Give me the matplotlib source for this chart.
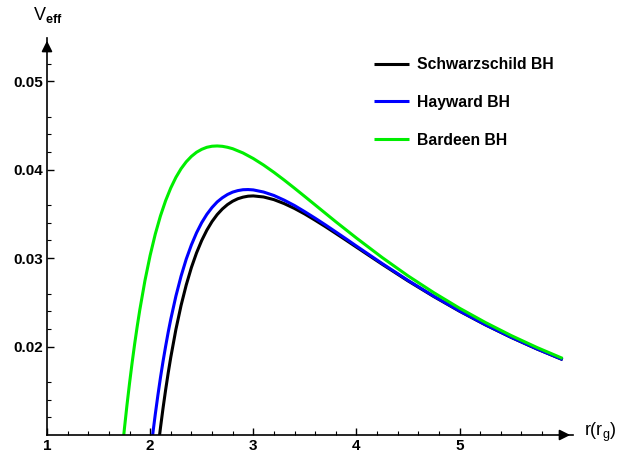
import matplotlib
matplotlib.use("Agg")
import matplotlib.pyplot as plt

plt.rcParams['font.family'] = ['Liberation Sans', 'DejaVu Sans']
plt.rcParams['mathtext.fontset'] = 'custom'
plt.rcParams['mathtext.rm'] = 'Liberation Sans'
plt.rcParams['mathtext.bf'] = 'Liberation Sans:bold'

# values (r in r_g, V_eff)
r_schw = [2.05, 2.09, 2.1, 2.125, 2.15, 2.175, 2.2, 2.25, 2.3, 2.35, 2.4, 2.45, 2.5,
          2.55, 2.6, 2.65, 2.7, 2.75, 2.8, 2.85, 2.9, 2.95, 3.0, 3.1, 3.2, 3.3, 3.4,
          3.5, 3.6, 3.7, 3.8, 3.9, 4.0, 4.25, 4.5, 4.75, 5.0, 5.25, 5.5, 5.75, 6.0]
v_schw = [0.00580, 0.00986, 0.01080, 0.01303, 0.01509, 0.01701, 0.01878, 0.02195,
          0.02466, 0.02697, 0.02894, 0.03060, 0.03200, 0.03317, 0.03414, 0.03493,
          0.03556, 0.03606, 0.03644, 0.03672, 0.03690, 0.03701, 0.03704, 0.03692,
          0.03662, 0.03617, 0.03562, 0.03499, 0.03429, 0.03356, 0.03280, 0.03203,
          0.03125, 0.02931, 0.02743, 0.02566, 0.02400, 0.02246, 0.02104, 0.01973,
          0.01852]

r_hay = [2.0, 2.03, 2.05, 2.075, 2.1, 2.125, 2.15, 2.175, 2.2, 2.25, 2.3, 2.35, 2.4,
         2.45, 2.5, 2.55, 2.6, 2.65, 2.7, 2.75, 2.8, 2.85, 2.9, 2.95, 3.0, 3.1, 3.2,
         3.3, 3.4, 3.5, 3.6, 3.7, 3.8, 3.9, 4.0, 4.25, 4.5, 4.75, 5.0, 5.25, 5.5,
         5.75, 6.0]
v_hay = [0.00758, 0.01053, 0.01235, 0.01448, 0.01648, 0.01832, 0.02002, 0.02162,
         0.02309, 0.02572, 0.02797, 0.02989, 0.03150, 0.03287, 0.03402, 0.03496,
         0.03573, 0.03636, 0.03683, 0.03720, 0.03747, 0.03764, 0.03774, 0.03776,
         0.03772, 0.03748, 0.03709, 0.03656, 0.03595, 0.03525, 0.03452, 0.03376,
         0.03297, 0.03218, 0.03137, 0.02939, 0.02749, 0.02570, 0.02403, 0.02248,
         0.02106, 0.01974, 0.01853]

r_bar = [1.725, 1.75, 1.775, 1.8, 1.825, 1.85, 1.875, 1.9, 1.95, 2.0, 2.05, 2.1,
         2.15, 2.2, 2.25, 2.3, 2.35, 2.4, 2.45, 2.5, 2.55, 2.6, 2.65, 2.7, 2.75,
         2.8, 2.9, 3.0, 3.1, 3.2, 3.3, 3.4, 3.5, 3.6, 3.7, 3.8, 3.9, 4.0, 4.25,
         4.5, 4.75, 5.0, 5.25, 5.5, 5.75, 6.0]
v_bar = [0.00776, 0.01065, 0.01334, 0.01583, 0.01815, 0.02031, 0.02231, 0.02417,
         0.02748, 0.03031, 0.03273, 0.03478, 0.03650, 0.03794, 0.03914, 0.04012,
         0.04090, 0.04151, 0.04198, 0.04231, 0.04254, 0.04266, 0.04269, 0.04265,
         0.04254, 0.04238, 0.04190, 0.04127, 0.04053, 0.03971, 0.03883, 0.03791,
         0.03697, 0.03602, 0.03507, 0.03412, 0.03320, 0.03228, 0.03007, 0.02800,
         0.02610, 0.02434, 0.02273, 0.02125, 0.01990, 0.01866]

labels = ['Schwarzschild BH', 'Hayward BH', 'Bardeen BH']
colors = ['black', '#0000ff', '#00ee00']

W, H = 618, 454
fig = plt.figure(figsize=(W / 100, H / 100), dpi=100)
x0, x1, y0, y1 = 47, 573, 435, 38
ax = fig.add_axes([x0 / W, 1 - y0 / H, (x1 - x0) / W, (y0 - y1) / H])

lw = 2.2
for r, v, c, lab in zip([r_schw, r_hay, r_bar], [v_schw, v_hay, v_bar], colors, labels):
    ax.plot(r, v, color=c, lw=lw, label=lab, solid_capstyle='butt',
            solid_joinstyle='round')

ax.set_xlim(1, 6.1)
ax.set_ylim(0.01, 0.0549)

for s in ['top', 'right']:
    ax.spines[s].set_visible(False)
for s in ['left', 'bottom']:
    ax.spines[s].set_linewidth(1.2)

ax.set_xticks([1, 2, 3, 4, 5])
ax.set_xticklabels(['1', '2', '3', '4', '5'])
ax.set_yticks([0.02, 0.03, 0.04, 0.05])
ax.set_yticklabels(['0.02', '0.03', '0.04', '0.05'])
ax.set_xticks([1 + 0.2 * i for i in range(1, 25) if i % 5], minor=True)
ax.set_yticks([0.012 + 0.002 * i for i in range(21) if (i + 1) % 5 != 4], minor=True)
ax.tick_params(which='major', direction='in', length=5, width=1.0, labelsize=11, pad=3)
ax.tick_params(which='minor', direction='in', length=3, width=0.8)
for t in ax.get_xticklabels() + ax.get_yticklabels():
    t.set_fontweight('bold')

# axis arrows
ax.annotate('', xy=(1.0, 0), xycoords='axes fraction', xytext=(0.97, 0),
            arrowprops=dict(arrowstyle='-|>', color='black', lw=1.2, mutation_scale=16),
            annotation_clip=False)
ax.annotate('', xy=(0, 1.0), xycoords='axes fraction', xytext=(0, 0.96),
            arrowprops=dict(arrowstyle='-|>', color='black', lw=1.2, mutation_scale=16),
            annotation_clip=False)

fig.text(33 / W, 1 - 15 / H, r'$\mathregular{V_{\bf eff}}$', fontsize=13, va='center', ha='left')
fig.text(584 / W, 1 - 432 / H, r'$\mathregular{r(r_{g})}$', fontsize=13, va='center', ha='left')

ax.legend(loc='upper left', bbox_to_anchor=(374 / W, 1 - 57 / H),
          bbox_transform=fig.transFigure, frameon=False, borderpad=0, borderaxespad=0,
          handlelength=2.2, handletextpad=0.55, labelspacing=1.45,
          prop={'weight': 'bold', 'size': 11.3})

fig.savefig('out.png', dpi=100)
